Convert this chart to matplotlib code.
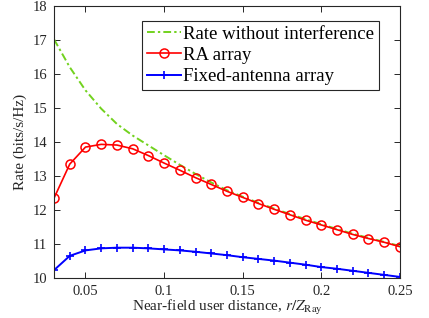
import numpy as np
import matplotlib.pyplot as plt

plt.rcParams['font.family'] = ['Liberation Serif', 'DejaVu Serif']
plt.rcParams['mathtext.fontset'] = 'stix'

# near-field user distance r / Z_Ray
dist = [0.03, 0.04, 0.05, 0.06, 0.07, 0.08, 0.09, 0.10, 0.11, 0.12, 0.13, 0.14,
        0.15, 0.16, 0.17, 0.18, 0.19, 0.20, 0.21, 0.22, 0.23, 0.24, 0.25]

rate_no_intf = [17.02, 16.20, 15.52, 14.98, 14.53, 14.19, 13.90, 13.61, 13.33, 13.06,
                12.81, 12.58, 12.39, 12.21, 12.04, 11.88, 11.73, 11.58, 11.44, 11.30,
                11.18, 11.06, 10.94]
rate_ra = [12.35, 13.35, 13.85, 13.93, 13.91, 13.80, 13.60, 13.38, 13.17, 12.95,
           12.75, 12.55, 12.37, 12.19, 12.02, 11.86, 11.70, 11.56, 11.42, 11.28,
           11.16, 11.05, 10.92]
rate_fixed = [10.23, 10.65, 10.81, 10.87, 10.89, 10.89, 10.87, 10.84, 10.81, 10.77,
              10.72, 10.67, 10.61, 10.56, 10.51, 10.45, 10.39, 10.32, 10.27, 10.21,
              10.15, 10.09, 10.03]

fig = plt.figure(figsize=(4.29, 3.18), dpi=100)
ax = fig.add_axes([0.126, 0.126, 0.806, 0.855])

ax.plot(dist, rate_no_intf, color='#72d21e', lw=1.4, ls=(0, (4, 1.6, 1.2, 1.6)),
        label='Rate without interference')
ax.plot(dist, rate_ra, color='red', lw=1.2, marker='o', ms=6.5, mfc='none',
        mew=1.1, label='RA array')
ax.plot(dist, rate_fixed, color='blue', lw=1.4, marker='+', ms=5.5, mew=1.2,
        label='Fixed-antenna array')

ax.set_xlim(0.03, 0.25)
ax.set_ylim(10, 18)
ax.set_xticks([0.05, 0.1, 0.15, 0.2, 0.25])
ax.set_xticklabels(['0.05', '0.1', '0.15', '0.2', '0.25'])
ax.set_yticks(np.arange(10, 19, 1))

edge = '#262626'
for s in ax.spines.values():
    s.set_color(edge)
    s.set_linewidth(0.8)
ax.tick_params(direction='in', top=True, right=True, length=4, width=0.7,
               colors=edge, labelsize=10.5, pad=5)

ax.set_xlabel(r'Near-field user distance, $r/Z_{\rm Ray}$', fontsize=11, color=edge,
              labelpad=0)
ax.set_ylabel('Rate (bits/s/Hz)', fontsize=11, color=edge, labelpad=4)

leg = ax.legend(loc='upper right', bbox_to_anchor=(0.94, 0.945), fontsize=13.5,
                frameon=True, fancybox=False, edgecolor=edge, framealpha=1,
                handlelength=1.8, handletextpad=0.15, borderpad=0.25,
                labelspacing=0.22, borderaxespad=0)
leg.get_frame().set_linewidth(0.8)

fig.savefig('out.png', dpi=100)
